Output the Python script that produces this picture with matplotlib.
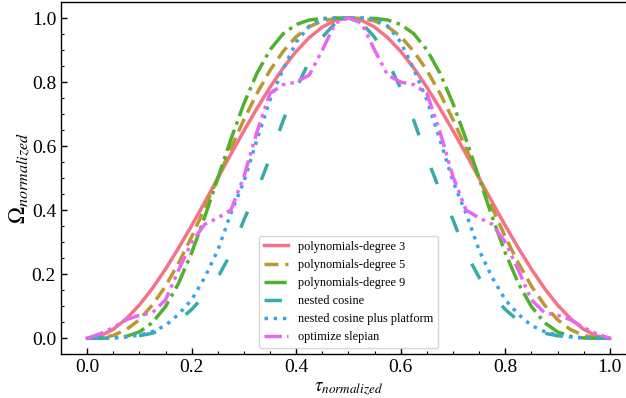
import numpy as np
import matplotlib
matplotlib.use("Agg")
import matplotlib.pyplot as plt
import seaborn as sns

plt.rcParams["font.family"] = ["Liberation Serif", "DejaVu Serif"]
plt.rcParams["mathtext.fontset"] = "stix"

# normalized time axis (step 0.025)
tau = [0.0, 0.025, 0.05, 0.075, 0.1, 0.125, 0.15, 0.175, 0.2, 0.225,
       0.25, 0.275, 0.3, 0.325, 0.35, 0.375, 0.4, 0.425, 0.45, 0.475,
       0.5, 0.525, 0.55, 0.575, 0.6, 0.625, 0.65, 0.675, 0.7, 0.725,
       0.75, 0.775, 0.8, 0.825, 0.85, 0.875, 0.9, 0.925, 0.95, 0.975, 1.0]

poly3 = [0, .007, .028, .061, .104, .156, .216, .282, .352, .425,
         .5, .575, .648, .718, .784, .844, .896, .939, .972, .993,
         1.0,
         .993, .972, .939, .896, .844, .784, .718, .648, .575,
         .5, .425, .352, .282, .216, .156, .104, .061, .028, .007, 0]

poly5 = [0, .001, .009, .027, .058, .104, .163, .235, .317, .407,
         .5, .593, .683, .765, .837, .896, .942, .973, .991, .999,
         1.0,
         .999, .991, .973, .942, .896, .837, .765, .683, .593,
         .5, .407, .317, .235, .163, .104, .058, .027, .009, .001, 0]

poly9 = [0, 0, .001, .006, .020, .049, .099, .172, .267, .379,
         .5, .621, .733, .828, .901, .951, .980, .994, .999, 1.0,
         1.0,
         1.0, .999, .994, .980, .951, .901, .828, .733, .621,
         .5, .379, .267, .172, .099, .049, .020, .006, .001, 0, 0]

nested_cos = [0, 0, .001, .004, .008, .016, .03, .055, .09, .135,
              .19, .265, .37, .46, .565, .68, .78, .865, .94, .985,
              1.0,
              .985, .94, .865, .78, .68, .565, .46, .37, .265,
              .19, .135, .09, .055, .03, .016, .008, .004, .001, 0, 0]

nested_platform = [0, 0, .001, .004, .01, .021, .04, .075, .12, .19,
                   .275, .39, .49, .62, .745, .84, .925, .975, .997, 1.0,
                   1.0,
                   1.0, .997, .975, .925, .84, .745, .62, .49, .39,
                   .275, .19, .12, .075, .04, .021, .01, .004, .001, 0, 0]

slepian = [0, .014, .033, .058, .072, .08, .12, .213, .30, .356,
           .376, .40, .505, .645, .765, .792, .80, .822, .90, .985,
           1.0,
           .985, .90, .822, .80, .792, .765, .645, .505, .40,
           .376, .356, .30, .213, .12, .08, .072, .058, .033, .014, 0]

labels = ["polynomials-degree 3", "polynomials-degree 5", "polynomials-degree 9",
          "nested cosine", "nested cosine plus platform", "optimize slepian"]
series = [poly3, poly5, poly9, nested_cos, nested_platform, slepian]
styles = ["-", (0, (4, 2)), "-.", (0, (5, 10)), ":", (0, (5, 1.5, 1, 1.5, 1, 1.5))]

colors = sns.color_palette("husl", 6)

fig = plt.figure(figsize=(6.26, 3.98), dpi=100)
ax = fig.add_axes([0.0974, 0.1098, 0.9185, 0.885])

for y, lab, ls, c in zip(series, labels, styles, colors):
    ax.plot(tau, y, linestyle=ls, color=c, lw=2.5, label=lab)

ax.set_xlim(-0.05, 1.05)
ax.set_ylim(-0.05, 1.05)
ax.set_xticks([0.0, 0.2, 0.4, 0.6, 0.8, 1.0])
ax.set_yticks([0.0, 0.2, 0.4, 0.6, 0.8, 1.0])
ax.set_xticks(np.arange(0, 1.01, 0.05), minor=True)
ax.set_yticks(np.arange(0, 1.01, 0.05), minor=True)
ax.tick_params(which="both", direction="in", labelsize=14)
ax.tick_params(which="major", length=4, width=1)
ax.tick_params(which="minor", length=2.5, width=0.8)
for sp in ax.spines.values():
    sp.set_linewidth(1.0)

ax.set_xlabel(r"$\tau_{normalized}$", fontsize=13.5, labelpad=3)
ax.set_ylabel(r"$\Omega_{normalized}$", fontsize=16.5, labelpad=-0.5)

ax.legend(loc="lower center", fontsize=8.8, frameon=True)

fig.savefig("out.png", dpi=100)
